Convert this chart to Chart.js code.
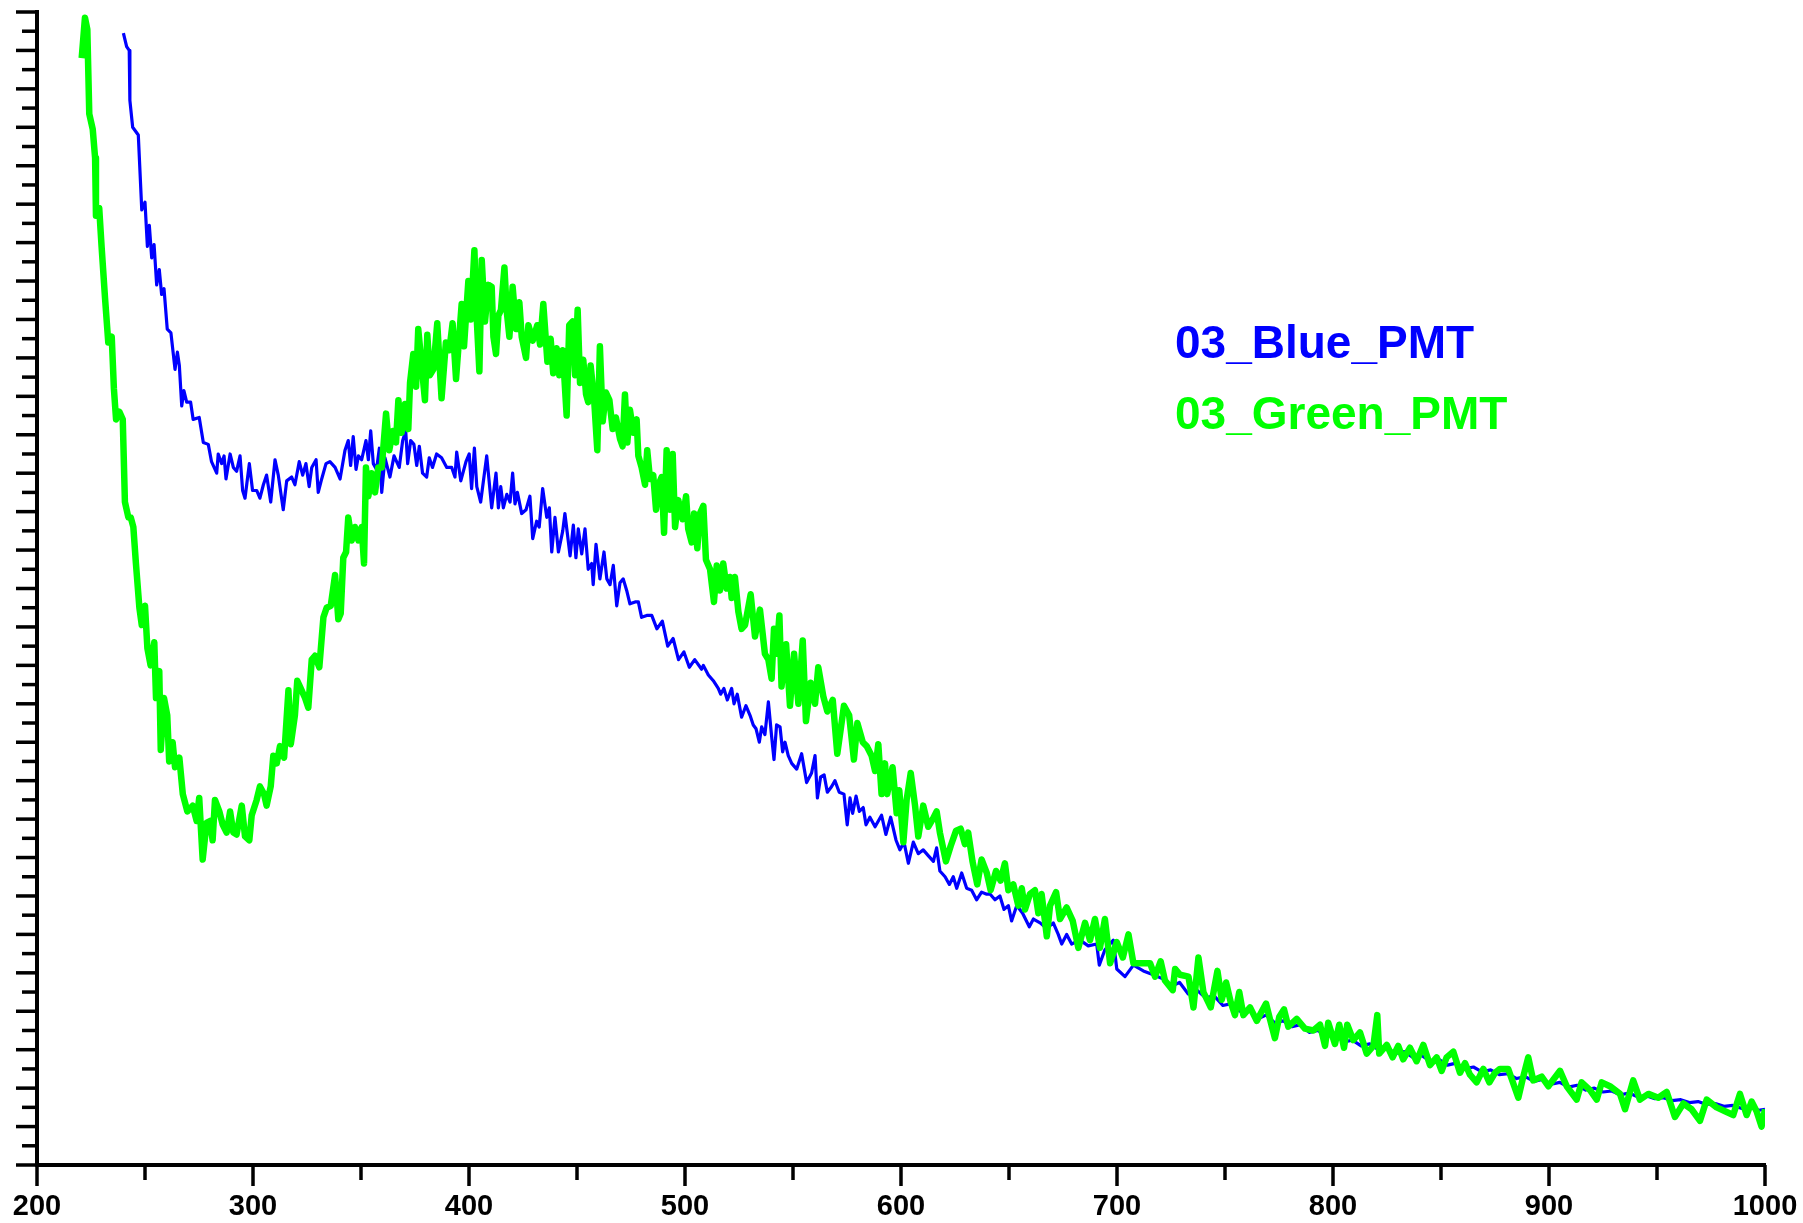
<!DOCTYPE html>
<html>
<head>
<meta charset="utf-8">
<title>PMT spectra</title>
<script src="https://cdn.jsdelivr.net/npm/chart.js@4.4.1/dist/chart.umd.min.js"></script>
<style>
  html, body { margin: 0; padding: 0; background: #ffffff; }
  #chart { display: block; }
</style>
</head>
<body>
<canvas id="chart" width="1803" height="1223"></canvas>
<script>
// wavelength (x) and signal (y, arbitrary units - the axis has no labels)
const blueWavelength = [
  240, 241.5, 242.7, 243, 244.3, 246.9, 248.5, 250, 251.1, 252, 253.1, 254.2, 255.4, 256.6, 257.7, 258.8,
  260.3, 262, 263.9, 265, 265.9, 267, 268, 269.3, 271.1, 272.3, 275.1, 277, 279.3, 280.8, 283.2, 283.9,
  285.5, 286.6, 287.5, 289.4, 290.9, 292.4, 294, 295.2, 296.3, 298.3, 299.8, 301.7, 303.2, 304.8, 306.3,
  308.2, 310.2, 311.7, 314, 315.6, 317.9, 319.4, 321.4, 323, 324.5, 326, 327.2, 329.2, 330.2, 331.8,
  333.8, 335.6, 338, 340.3, 342.6, 344.1, 345.2, 346.4, 347.7, 348.8, 350.3, 352.3, 353.4, 354.5, 355.7,
  357.2, 358.5, 359.6, 361.1, 363.4, 365.3, 367.7, 369.3, 370.7, 371.6, 373, 374.5, 375.8, 377, 378.5,
  380.4, 381.6, 383.1, 385, 387.3, 389.7, 392, 393.5, 394.3, 396.2, 398.6, 400.1, 401.2, 402.5, 403.6,
  405.4, 408.2, 410.5, 412.5, 413.6, 414.7, 415.9, 417.5, 419, 420.2, 421.3, 422.4, 424.4, 426.4, 428.2,
  429.5, 431.3, 432.5, 434.1, 436, 437.2, 438.3, 439.8, 441.4, 443.4, 444.4, 446.8, 448.3, 449.5, 450.6,
  452.2, 453.7, 455.2, 456.8, 457.5, 458.8, 460.6, 462.5, 463.8, 465.3, 466.8, 468.4, 469.9, 471.4, 473,
  474.5, 476.9, 478.4, 479.9, 482.3, 484.6, 487, 489.5, 492, 494.5, 497, 499.5, 502, 504.5, 507.7, 508.5,
  510.8, 513.1, 515.4, 516.5, 518, 519.6, 521.6, 522.7, 524.2, 526.2, 528.2, 530.1, 531.6, 532.9, 534.4,
  535.5, 537, 538.6, 540.1, 541.2, 542.4, 544, 545.2, 546.3, 547.8, 549.4, 551.7, 554, 556.3, 558.6,
  560.2, 561.3, 562.8, 564.4, 565.9, 567.9, 569.4, 571.4, 573.6, 575.1, 576.4, 577.6, 579.2, 580.7, 582.5,
  583.8, 585.6, 588, 591, 593, 595.2, 597.7, 599.5, 601.4, 603.4, 605.7, 608, 610.3, 612.6, 615, 616.5,
  618, 620.4, 622.4, 624.2, 625.8, 628.1, 630.4, 632.7, 635, 637.3, 639.4, 641.2, 643.5, 645.8, 647.7,
  649.7, 651.2, 653.6, 656.3, 659.4, 661.3, 664.4, 667.5, 670.5, 672.8, 674.4, 676.7, 679, 682.9, 686.7,
  690.6, 691.8, 694.4, 698.3, 699.9, 703.7, 707.6, 712.2, 716.8, 721, 725, 729, 733, 737, 741, 745, 749,
  753, 757, 761, 765, 769, 773, 777, 781, 785, 789, 793, 797, 801, 805, 809, 813, 817, 821, 825, 829, 833,
  837, 841, 845, 849, 853, 857, 861, 865, 869, 873, 877, 881, 885, 889, 893, 897, 901, 905, 909, 913, 917,
  921, 925, 929, 933, 937, 941, 945, 949, 953, 957, 961, 965, 969, 973, 977, 981, 985, 989, 993, 997, 1000
];
const blueSignal = [
  58.9, 58.2, 58, 55.4, 54, 53.6, 49.7, 50.1, 47.8, 48.9, 47.2, 47.9, 45.8, 46.6, 45.3, 45.6,
  43.5, 43.3, 41.4, 42.3, 41.6, 39.5, 40.3, 39.7, 39.7, 38.8, 38.9, 37.6, 37.5, 36.6, 36, 37,
  36.5, 36.9, 35.7, 37, 36.3, 36.1, 36.9, 35.1, 34.7, 36.5, 35.1, 35.1, 34.7, 35.4, 35.9,
  34.5, 36.7, 35.9, 34.1, 35.6, 35.8, 35.4, 36.6, 35.9, 36.5, 35.3, 36.3, 36.7, 35, 35.7,
  36.5, 36.6, 36.3, 35.7, 37.2, 37.7, 36.4, 37.9, 36.2, 36.9, 36.7, 37.7, 36.7, 38.2, 36.5,
  36.2, 37.3, 35, 36.8, 35.8, 36.9, 36.3, 37.7, 38.2, 36.5, 37.7, 37.5, 36.4, 37.4, 36,
  35.8, 36.8, 36.3, 37, 36.8, 36.3, 36.3, 35.8, 37.1, 35.6, 36.6, 37, 35.2, 37.3, 35.3,
  34.5, 36.9, 34.2, 36, 34.2, 35.3, 34.2, 34.9, 34.5, 36, 34.4, 35, 33.9, 34.1, 34.8,
  32.6, 33.5, 33.2, 35.2, 33.7, 34.2, 31.9, 33.7, 31.9, 33, 33.9, 31.7, 33.3, 31.6, 33.1,
  31.8, 33.1, 31, 31.3, 30.2, 32.3, 30.5, 31.9, 30.5, 30.2, 31.2, 29.1, 30.3, 30.5, 29.9,
  29.2, 29.3, 29.3, 28.5, 28.6, 28.6, 27.9, 28.3, 27, 27.4, 26.3, 26.7, 25.9, 26.3, 25.8, 26,
  25.5, 25.2, 24.8, 24.5, 24.8, 24.2, 24.8, 24, 24.5, 23.3, 23.9, 23.4, 22.9, 22.7, 22,
  22.8, 22.4, 24.1, 22.3, 21.1, 22.9, 22.8, 21.5, 22, 21.3, 20.9, 20.6, 21.4, 19.9, 20.4,
  21.3, 19.1, 20.2, 20.3, 19.4, 19.7, 20, 19.4, 19.3, 17.7, 19.1, 18.3, 19.2, 18.4, 18.6,
  17.7, 18.1, 17.6, 18.2, 17.2, 18.1, 16.9, 16.4, 16.8, 15.7, 16.8, 16.2, 16.4, 16.1, 15.8, 16.5,
  15.3, 15, 14.6, 15, 14.4, 15.2, 14.4, 14.3, 13.8, 14.2, 14.1, 14.1, 13.8, 14, 13.3,
  13.5, 12.7, 13.5, 13.1, 12.4, 12.8, 12.6, 12.3, 12.6, 12, 11.5, 12, 11.5, 11.7, 11.4,
  11.5, 10.4, 11.2, 11.7, 10.2, 9.8, 10.4, 10.1, 9.9, 9.7, 9.3, 9.5, 8.9, 9.1, 8.7, 8.8, 8.3,
  8.4, 8, 8.1, 7.6, 7.8, 7.4, 7.5, 7.2, 7.3, 6.9, 7, 6.7, 6.8, 6.4, 6.5, 6.2, 6.3, 6, 6.1, 5.8, 5.9,
  5.6, 5.7, 5.4, 5.5, 5.2, 5.3, 5, 5.1, 4.85, 4.95, 4.7, 4.75, 4.5, 4.6, 4.35, 4.45, 4.2, 4.3, 4.05, 4.15, 3.9,
  4, 3.8, 3.85, 3.65, 3.75, 3.55, 3.6, 3.45, 3.5, 3.35, 3.4, 3.25, 3.3, 3.15, 3.2, 3.05, 3.1, 2.95, 3, 2.85, 2.9
];

const greenWavelength = [
  220.7, 222.2, 223.3, 224.2, 225.8, 226.9, 227.3, 228.8, 229.9, 231.5, 233, 234.6, 235.6, 236.6, 238.1,
  239.7, 240.7, 242.3, 243.4, 244.6, 245.8, 247.4, 248.5, 250, 251.1, 252.6, 254.3, 255.1, 256.6, 257.3,
  258.8, 260.3, 261.2, 262.8, 263.9, 265.9, 267.5, 269.6, 272.1, 273.9, 275.1, 276.7, 278.5, 280.1, 281.3,
  282.4, 284.4, 286, 287.8, 289.4, 290.9, 292.4, 294.8, 296.3, 298.3, 299.4, 301.7, 303.2, 305.1, 306.3,
  308.2, 309.4, 311, 312.5, 314.4, 316.4, 317.5, 319.4, 320.5, 322.1, 324.1, 325.6, 327.2, 328.7, 330.7,
  332.6, 334.1, 336, 338, 339.5, 340.6, 341.8, 343.1, 344.1, 345.7, 347.2, 348.8, 350.3, 351.4, 352.3,
  353.4, 354.9, 356.5, 358, 359.6, 361.6, 363.1, 364.7, 366.2, 367.3, 368.8, 370.4, 371.9, 372.7, 374.2,
  375.5, 376.5, 378.1, 379.6, 380.7, 381.9, 383.5, 385.3, 387.3, 389.3, 390.9, 392.4, 394, 396.6, 397.7,
  399.7, 400.8, 402.5, 403.6, 404.8, 405.9, 407.4, 409, 410.5, 411.3, 412.5, 413.6, 414.8, 416.4, 417.5,
  418.7, 420.2, 421.8, 423.3, 424.4, 426.4, 427.5, 429.5, 431.6, 432.9, 434.4, 436.3, 437.8, 439, 440.6,
  441.8, 443.4, 445.2, 446.4, 448, 449.1, 450.3, 451.4, 452.9, 454.2, 455.2, 456.3, 457.9, 459.4, 460.6,
  461.9, 463.4, 465, 466.5, 468, 469.9, 471.1, 472.2, 473.3, 474.5, 476.1, 477.6, 478.4, 479.9, 481.5,
  482.5, 483.8, 485.3, 486.6, 488.1, 489.2, 490.3, 491.5, 493.1, 494.3, 495.4, 496.9, 498.9, 500.5, 501.5,
  503.1, 504.2, 505.7, 506.9, 508.5, 509.7, 511.6, 513.4, 514.7, 516.2, 517.7, 519.3, 520.8, 521.6, 523.1,
  524.7, 526.2, 527.8, 530.4, 532.4, 534.7, 537, 538.6, 540.1, 541.2, 542.4, 543.7, 544.7, 546.8, 548.6,
  550.5, 552.5, 554.5, 556, 558.2, 560.2, 561.7, 564, 565.9, 568.4, 570.5, 573.6, 576, 578.2, 579.8,
  582.3, 584.1, 586.4, 588, 589.5, 591, 592.6, 593.6, 596.1, 598, 599.2, 601.1, 602.6, 604.5, 606.5,
  608, 610.3, 612.6, 614.7, 616.5, 618, 620.8, 623, 625.5, 627.6, 629.6, 631.1, 633.1, 635.3, 637.3,
  639.7, 641.5, 644, 646.1, 648.1, 649.7, 652, 654.3, 655.9, 657.4, 659.7, 662, 663.6, 665.1, 667.5,
  669, 671.8, 673.6, 676.7, 679.5, 682.1, 685.2, 687.5, 689.8, 692.1, 694.4, 696.8, 699.9, 702.7, 705.3,
  707.6, 711.4, 715.3, 717.6, 720.2, 722.2, 725.8, 726.9, 729.2, 733.1, 735.4, 737.7, 740, 743.4, 746.5,
  748.5, 750.5, 752.6, 754.6, 756.6, 758.5, 761.6, 764.7, 769, 770.8, 773.1, 775.1, 777.3, 779.3, 783.2,
  787, 790.9, 794, 796.3, 797.8, 800.9, 802.9, 805.1, 806.6, 809.4, 812.5, 815.6, 818.7, 820.5, 821.4,
  824.9, 827.6, 830.2, 832.5, 835.6, 838.7, 841.8, 844.9, 848, 850.3, 852.6, 855.7, 858.8, 861.1, 863.4,
  866.5, 869.6, 872.4, 875, 877.3, 881.1, 885.8, 888.1, 890.4, 892.7, 896.6, 899.7, 905.1, 908.2, 912.8,
  915.1, 919, 922.1, 924.4, 928.2, 932.9, 935.2, 939, 942.1, 946, 950.6, 954.5, 958.3, 962.2, 966,
  969.9, 973, 977.6, 981.5, 985.3, 988.4, 991.5, 993.8, 996.1, 998.4, 1000
];
const greenSignal = [
  57.6, 59.7, 59.1, 54.7, 53.9, 52.4, 49.4, 49.8, 47.8, 45.1, 42.8, 43.1, 40.4, 38.8, 39.2,
  38.8, 34.5, 33.7, 33.7, 33.2, 31.3, 29, 28.1, 29.1, 26.9, 26, 27.2, 24.3, 25.7, 21.6,
  24.3, 23.4, 21, 22, 20.7, 21.2, 19.3, 18.4, 18.7, 17.9, 19.1, 15.9, 17.8, 17.9, 16.9,
  19, 18.4, 17.7, 17.3, 18.4, 17.3, 17.2, 18.7, 17.1, 16.9, 18.2, 19, 19.7, 19.3, 18.7,
  19.7, 21.3, 20.9, 21.8, 21.2, 24.7, 21.9, 23.4, 25.2, 24.8, 24.3, 23.8, 26.3, 26.5, 25.9,
  28.5, 29, 29.1, 30.7, 28.4, 28.7, 31.6, 31.9, 33.7, 32.5, 33.2, 32.5, 33.2, 31.3, 36.3,
  34.8, 36, 35, 36.3, 36.3, 39.1, 37.2, 38.2, 37.6, 39.8, 38.1, 39.6, 38.3, 40.7, 42.2,
  40.5, 43.5, 41.6, 39.8, 43.2, 41.1, 41.4, 43.8, 39.9, 42.8, 42.4, 43.8, 40.9, 44.8, 42.6,
  46, 44, 47.6, 44, 41.3, 47.1, 43.9, 45.8, 45.7, 43.1, 42.2, 44.2, 44.5, 46.7, 44.4,
  43.1, 45.7, 43.5, 44.9, 43.1, 42, 43.7, 42.9, 43.7, 42.7, 44.8, 41.8, 43, 41.2, 42.5,
  41.1, 42.4, 39, 43.7, 43.9, 41.1, 44.5, 40.7, 41.9, 40.1, 39.7, 41.6, 39.9, 37.2, 42.6,
  38.7, 40.2, 39.8, 38.3, 38.9, 37.8, 37.4, 40.1, 37.6, 39.3, 38.1, 38.8, 36.9, 36.3, 35.4,
  37.2, 35.7, 35.9, 34.1, 35.5, 35.8, 32.9, 37.2, 34.1, 37, 33.2, 34.6, 33.6, 34.8, 33.1,
  32.4, 33.9, 32.1, 33.9, 34.3, 31.5, 31, 29.3, 31.2, 29.9, 31.3, 30, 30.6, 29.5, 30.6,
  28.8, 27.9, 28.1, 29.7, 27.5, 28.9, 26.6, 26.3, 25.3, 27.9, 26.6, 28.6, 24.9, 27.1, 23.9,
  26.6, 24, 27.3, 23.1, 25.1, 24, 25.9, 24.4, 23.6, 24.2, 21.4, 23.9, 23.4, 21.1, 23,
  22, 21.8, 21.3, 20.5, 21.9, 19.3, 20.9, 19.3, 20.7, 18.3, 19.5, 16.8, 19, 20.4, 18.7,
  17.1, 18.7, 17.6, 18, 18.4, 17.3, 15.8, 16.6, 17.4, 17.5, 16.7, 17.3, 15.8, 14.6, 15.9,
  15.2, 14.3, 15.3, 14.8, 15.7, 14.3, 14.6, 13.5, 14.4, 13.3, 14.1, 14.3, 13.1, 14.1, 11.9,
  13.5, 14.2, 12.8, 13.4, 12.7, 11.3, 12.6, 11.7, 12.8, 11.3, 12.8, 10.5, 11.6, 10.8, 12,
  10.5, 10.5, 10.5, 9.8, 10.6, 9.6, 9.1, 10.2, 9.9, 9.8, 8.2, 10.8, 9, 8.2, 10.1,
  8.6, 9.5, 8.5, 7.8, 9, 7.8, 8.2, 7.5, 8.4, 7.6, 6.6, 7.7, 8.1, 7.2, 7.6,
  7.1, 7, 7.3, 6.2, 7.4, 6.3, 7.3, 6.1, 7.3, 6.5, 6.9, 5.8, 6.2, 7.8, 5.8,
  6.25, 5.6, 6.2, 5.5, 6.1, 5.4, 6.25, 5.2, 5.6, 4.9, 5.6, 5.9, 4.8, 5.3, 4.7,
  4.3, 5, 4.3, 4.8, 5, 5, 3.5, 4.6, 5.6, 4.4, 4.6, 4.1, 4.9, 4.1, 3.4,
  4.3, 3.9, 3.4, 4.3, 4.1, 3.7, 2.9, 4.4, 3.4, 3.7, 3.5, 3.8, 2.5, 3.2, 2.9,
  2.3, 3.4, 3, 2.8, 2.6, 3.7, 2.6, 3.3, 2.8, 2, 2.9
];

const seriesNames = ["03_Blue_PMT", "03_Green_PMT"];
const seriesColors = ["#0000ff", "#00ff00"];

function toPoints(xs, ys) {
  return xs.map((x, i) => ({ x: x, y: ys[i] }));
}

// long / short tick marks on both axes
const tickMarks = {
  id: "tickMarks",
  afterDraw(chart) {
    const ctx = chart.ctx;
    const xs = chart.scales.x;
    const ys = chart.scales.y;
    const area = chart.chartArea;
    ctx.save();
    ctx.strokeStyle = "#000";
    ctx.lineWidth = 3.5;
    xs.ticks.forEach((t) => {
      const px = xs.getPixelForValue(t.value);
      const len = t.value % 100 === 0 ? 21 : 15;
      ctx.beginPath();
      ctx.moveTo(px, area.bottom);
      ctx.lineTo(px, area.bottom + len);
      ctx.stroke();
    });
    ys.ticks.forEach((t) => {
      const py = ys.getPixelForValue(t.value);
      const len = t.value % 2 === 0 ? 21 : 15;
      ctx.beginPath();
      ctx.moveTo(area.left - len, py);
      ctx.lineTo(area.left, py);
      ctx.stroke();
    });
    ctx.restore();
  }
};

// series names written inside the plot
const seriesLabels = {
  id: "seriesLabels",
  afterDraw(chart) {
    const ctx = chart.ctx;
    ctx.save();
    ctx.font = "bold 46px 'Liberation Sans', Arial, sans-serif";
    ctx.textAlign = "left";
    ctx.textBaseline = "alphabetic";
    const baselines = [358, 429];
    chart.data.datasets.forEach((ds, i) => {
      ctx.fillStyle = ds.borderColor;
      ctx.fillText(ds.label, 1175, baselines[i]);
    });
    ctx.restore();
  }
};

new Chart(document.getElementById("chart"), {
  type: "line",
  data: {
    datasets: [
      {
        label: seriesNames[0],
        data: toPoints(blueWavelength, blueSignal),
        borderColor: seriesColors[0],
        borderWidth: 3.2,
        pointRadius: 0,
        tension: 0,
        borderJoinStyle: "round",
        order: 2
      },
      {
        label: seriesNames[1],
        data: toPoints(greenWavelength, greenSignal),
        borderColor: seriesColors[1],
        borderWidth: 6.5,
        pointRadius: 0,
        tension: 0,
        borderJoinStyle: "round",
        order: 1
      }
    ]
  },
  options: {
    responsive: false,
    animation: false,
    devicePixelRatio: 1,
    layout: { padding: { top: 12, right: 38, left: 0, bottom: 0 } },
    plugins: { legend: { display: false }, tooltip: { enabled: false } },
    scales: {
      x: {
        type: "linear",
        min: 200,
        max: 1000,
        afterFit: (scale) => { scale.height = 58; },
        ticks: {
          stepSize: 50,
          autoSkip: false,
          maxRotation: 0,
          padding: 4,
          color: "#000",
          font: { family: "'Liberation Sans', Arial, sans-serif", size: 29, weight: "bold" },
          callback: (v) => (v % 100 === 0 ? String(v) : "")
        },
        grid: { drawOnChartArea: false, drawTicks: true, tickLength: 21, tickColor: "rgba(0,0,0,0)" },
        border: { display: true, color: "#000", width: 4 }
      },
      y: {
        type: "linear",
        min: 0,
        max: 60,
        afterFit: (scale) => { scale.width = 37; },
        ticks: { stepSize: 1, display: false, autoSkip: false },
        grid: { drawOnChartArea: false, drawTicks: false },
        border: { display: true, color: "#000", width: 4 }
      }
    }
  },
  plugins: [tickMarks, seriesLabels]
});
</script>
</body>
</html>
